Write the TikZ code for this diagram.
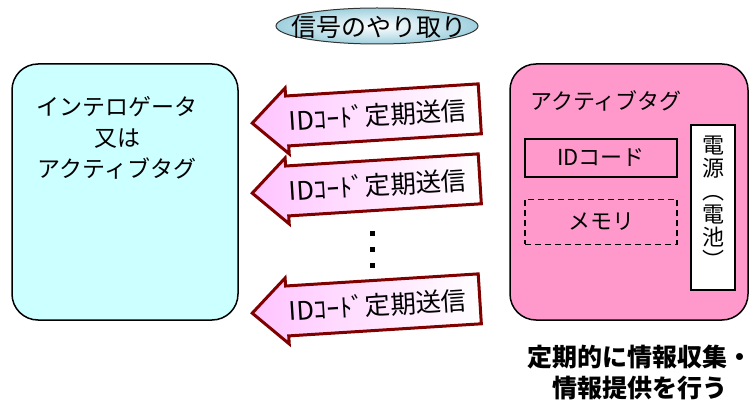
\documentclass[tikz,border=0pt]{standalone}
\usepackage{fontspec}
\setmainfont{Noto Sans CJK JP}
\usetikzlibrary{shapes.geometric}
\definecolor{boxcyan}{HTML}{CCFFFF}
\definecolor{boxpink}{HTML}{FF99CC}
\definecolor{arrowred}{HTML}{800000}
\definecolor{arrowpink}{HTML}{FFC4FF}
\definecolor{ellblue}{HTML}{9FD0DE}
\tikzset{
  bigbox/.style={draw=black, line width=1.5pt, rounded corners=26pt},
  innerbox/.style={draw=black, line width=1.3pt, fill=boxpink},
  txt/.style={inner sep=0pt, font=\fontsize{22}{26}\selectfont},
  sendarrow/.style={draw=arrowred, line width=3pt, line join=miter, left color=arrowpink, right color=white},
  dot/.style={fill=black, minimum size=5pt, inner sep=0pt, draw=none},
}
\begin{document}
\begin{tikzpicture}[x=1pt,y=-1pt]
\useasboundingbox (0,0) rectangle (752,403);

% title ellipse
\shade[draw=black!80, line width=1pt, inner color=white, outer color=ellblue]
  (377,26) ellipse [x radius=101pt, y radius=18pt];
\node[txt, font=\fontsize{25}{28}\selectfont] (title) at (379,27) {信号のやり取り};

% left box
\node[bigbox, fill=boxcyan, minimum width=226pt, minimum height=256pt] (left) at (125,192) {};
\node[txt, align=center, font=\fontsize{23}{31}\selectfont] (lefttext) at (117,138)
  {インテロゲータ\\又は\\アクティブタグ};

% right box
\node[bigbox, fill=boxpink, minimum width=238pt, minimum height=256pt] (right) at (629,192) {};
\node[txt] (righttitle) at (606,101) {アクティブタグ};
\node[innerbox, minimum width=152pt, minimum height=38pt, txt] (idcode) at (601,158) {IDコード};
\node[innerbox, dash pattern=on 6pt off 4pt, line width=1.5pt, minimum width=152pt, minimum height=45pt, txt] (memory) at (601,222) {メモリ};
\node[draw=black, line width=1.3pt, fill=white, minimum width=44pt, minimum height=165pt, inner sep=0pt] (power) at (713,207.5) {};
\node[txt, align=center, font=\fontsize{22}{23}\selectfont] (powertext) at (713,202)
  {電\\源\\︵\\電\\池\\︶};

% block arrows
\foreach \n/\cy in {a1/116, a2/186, a3/306} {
  \begin{scope}[shift={(366,\cy)}, rotate=3.6]
    \draw[sendarrow] (-114,0) -- (-79,-33) -- (-79,-25) -- (114,-25) -- (114,25) -- (-79,25) -- (-79,33) -- cycle;
    \node[txt, transform shape, font=\fontsize{25.5}{28}\selectfont] (\n) at (12,0) {IDｺｰﾄﾞ定期送信};
  \end{scope}
}

% dots
\node[dot] (d1) at (372,234) {};
\node[dot] (d2) at (372,250) {};
\node[dot] (d3) at (372,266) {};

% bottom note
\node[txt, font=\fontsize{25}{31}\bfseries\selectfont, align=center] (note) at (640,372)
  {定期的に情報収集・\\情報提供を行う};
\end{tikzpicture}
\end{document}
